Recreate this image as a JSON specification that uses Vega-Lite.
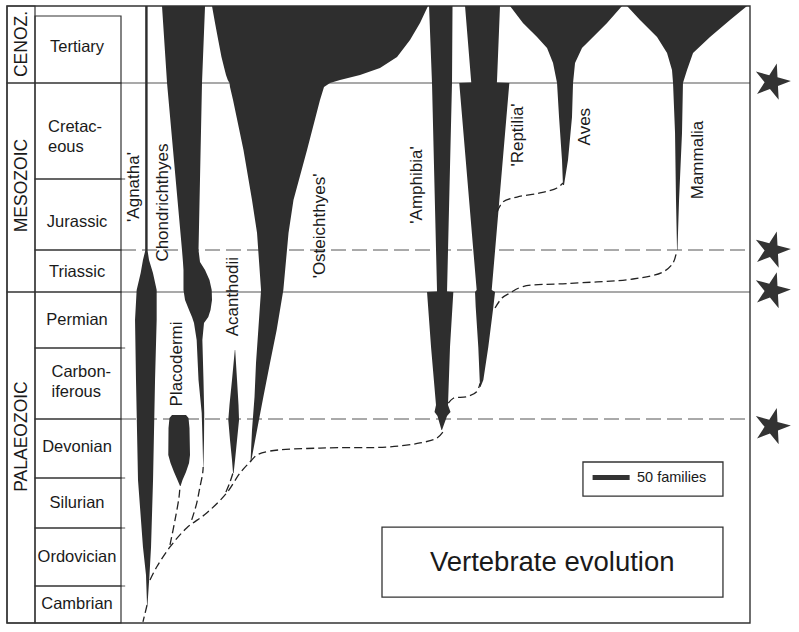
{
  "$schema": "https://vega.github.io/schema/vega-lite/v6.json",
  "width": 799,
  "height": 632,
  "autosize": "none",
  "padding": 0,
  "background": "white",
  "config": {"view": {"stroke": null}, "text": {"font": "Liberation Sans", "color": "#1a1a1a"}},
  "datasets": {
    "eras": [
      {"era": "CENOZ.", "start": 0, "end": 65, "label_ma": 28.2},
      {"era": "MESOZOIC", "start": 65, "end": 248, "label_ma": 147.8},
      {"era": "PALAEOZOIC", "start": 248, "end": 545, "label_ma": 372.7}
    ],
    "periods": [
      {"period": "Tertiary", "start": 1.8, "end": 65},
      {"period": "Cretaceous", "start": 65, "end": 142},
      {"period": "Jurassic", "start": 142, "end": 205},
      {"period": "Triassic", "start": 205, "end": 248},
      {"period": "Permian", "start": 248, "end": 290},
      {"period": "Carboniferous", "start": 290, "end": 354},
      {"period": "Devonian", "start": 354, "end": 417},
      {"period": "Silurian", "start": 417, "end": 443},
      {"period": "Ordovician", "start": 443, "end": 495},
      {"period": "Cambrian", "start": 495, "end": 545}
    ],
    "spindles": [
      {"g": "Agnatha", "ma": 0, "lo": 196, "hi": 199.3},
      {"g": "Agnatha", "ma": 206, "lo": 196, "hi": 199.3},
      {"g": "Agnatha", "ma": 215.2, "lo": 193, "hi": 201.2},
      {"g": "Agnatha", "ma": 228.6, "lo": 189.9, "hi": 206.5},
      {"g": "Agnatha", "ma": 246, "lo": 184.5, "hi": 211.5},
      {"g": "Agnatha", "ma": 269, "lo": 182.3, "hi": 211.5},
      {"g": "Agnatha", "ma": 318.8, "lo": 183.6, "hi": 209.3},
      {"g": "Agnatha", "ma": 418, "lo": 186.3, "hi": 206.6},
      {"g": "Agnatha", "ma": 460, "lo": 193, "hi": 203.9},
      {"g": "Agnatha", "ma": 485.1, "lo": 197.1, "hi": 201.8},
      {"g": "Agnatha", "ma": 520.7, "lo": 198.5, "hi": 199.1},
      {"g": "Chondrichthyes", "ma": 0, "lo": 218.7, "hi": 276.8},
      {"g": "Chondrichthyes", "ma": 65, "lo": 225.5, "hi": 272.7},
      {"g": "Chondrichthyes", "ma": 205, "lo": 245.7, "hi": 268},
      {"g": "Chondrichthyes", "ma": 217.3, "lo": 247, "hi": 270},
      {"g": "Chondrichthyes", "ma": 225.5, "lo": 247.7, "hi": 276.8},
      {"g": "Chondrichthyes", "ma": 235.7, "lo": 247.7, "hi": 282.8},
      {"g": "Chondrichthyes", "ma": 246, "lo": 247.7, "hi": 285.8},
      {"g": "Chondrichthyes", "ma": 254, "lo": 249.8, "hi": 286.2},
      {"g": "Chondrichthyes", "ma": 261.5, "lo": 255.2, "hi": 284.2},
      {"g": "Chondrichthyes", "ma": 266.75, "lo": 259.2, "hi": 281.2},
      {"g": "Chondrichthyes", "ma": 271.25, "lo": 261.9, "hi": 275.4},
      {"g": "Chondrichthyes", "ma": 284, "lo": 265.5, "hi": 273.2},
      {"g": "Chondrichthyes", "ma": 318.8, "lo": 268, "hi": 274.7},
      {"g": "Chondrichthyes", "ma": 348.6, "lo": 272.3, "hi": 275.7},
      {"g": "Chondrichthyes", "ma": 376.4, "lo": 273.4, "hi": 275.4},
      {"g": "Chondrichthyes", "ma": 405.3, "lo": 274.3, "hi": 274.6},
      {"g": "Placodermi", "ma": 350.4, "lo": 232.2, "hi": 251.1},
      {"g": "Placodermi", "ma": 353.1, "lo": 228.8, "hi": 254.5},
      {"g": "Placodermi", "ma": 363.6, "lo": 227.5, "hi": 255.8},
      {"g": "Placodermi", "ma": 392.4, "lo": 227.2, "hi": 256.5},
      {"g": "Placodermi", "ma": 401, "lo": 230.2, "hi": 255.2},
      {"g": "Placodermi", "ma": 410.6, "lo": 234.9, "hi": 251.1},
      {"g": "Placodermi", "ma": 418, "lo": 239.6, "hi": 246.4},
      {"g": "Placodermi", "ma": 421.2, "lo": 243, "hi": 243.8},
      {"g": "Acanthodii", "ma": 291.8, "lo": 317, "hi": 317.5},
      {"g": "Acanthodii", "ma": 318.8, "lo": 313.2, "hi": 320},
      {"g": "Acanthodii", "ma": 341.4, "lo": 309.8, "hi": 322},
      {"g": "Acanthodii", "ma": 355.1, "lo": 308.2, "hi": 322.7},
      {"g": "Acanthodii", "ma": 376.4, "lo": 310.5, "hi": 320},
      {"g": "Acanthodii", "ma": 397.8, "lo": 313.2, "hi": 317.3},
      {"g": "Acanthodii", "ma": 411.7, "lo": 314.6, "hi": 315.4},
      {"g": "Osteichthyes", "ma": 0, "lo": 286.2, "hi": 577.8},
      {"g": "Osteichthyes", "ma": 8.4, "lo": 290.3, "hi": 567},
      {"g": "Osteichthyes", "ma": 24.4, "lo": 294.6, "hi": 553.5},
      {"g": "Osteichthyes", "ma": 40.5, "lo": 299, "hi": 536},
      {"g": "Osteichthyes", "ma": 50.9, "lo": 302.7, "hi": 513},
      {"g": "Osteichthyes", "ma": 57.5, "lo": 305.1, "hi": 486},
      {"g": "Osteichthyes", "ma": 62.2, "lo": 307.5, "hi": 459},
      {"g": "Osteichthyes", "ma": 65, "lo": 309.8, "hi": 445.5},
      {"g": "Osteichthyes", "ma": 68.2, "lo": 310.5, "hi": 437.4},
      {"g": "Osteichthyes", "ma": 78.6, "lo": 314.6, "hi": 432},
      {"g": "Osteichthyes", "ma": 118.7, "lo": 328.7, "hi": 414.5},
      {"g": "Osteichthyes", "ma": 160.6, "lo": 340.2, "hi": 396.2},
      {"g": "Osteichthyes", "ma": 189.9, "lo": 347, "hi": 389.5},
      {"g": "Osteichthyes", "ma": 246, "lo": 352.4, "hi": 382.5},
      {"g": "Osteichthyes", "ma": 276.5, "lo": 348.7, "hi": 373.5},
      {"g": "Osteichthyes", "ma": 303.5, "lo": 345.6, "hi": 364.5},
      {"g": "Osteichthyes", "ma": 334.2, "lo": 343.6, "hi": 355.5},
      {"g": "Osteichthyes", "ma": 365.7, "lo": 340.2, "hi": 347},
      {"g": "Osteichthyes", "ma": 399.9, "lo": 338.2, "hi": 338.9},
      {"g": "Amphibia", "ma": 0, "lo": 579.2, "hi": 610.9},
      {"g": "Amphibia", "ma": 65, "lo": 583.2, "hi": 610.2},
      {"g": "Amphibia", "ma": 247.5, "lo": 590, "hi": 603.5},
      {"g": "Amphibia", "ma": 248, "lo": 576.5, "hi": 612},
      {"g": "Amphibia", "ma": 289.3, "lo": 581.9, "hi": 607.5},
      {"g": "Amphibia", "ma": 341.4, "lo": 588.6, "hi": 604.8},
      {"g": "Amphibia", "ma": 347.7, "lo": 586.6, "hi": 608.2},
      {"g": "Amphibia", "ma": 351.3, "lo": 590.6, "hi": 603.5},
      {"g": "Amphibia", "ma": 365.7, "lo": 596, "hi": 596.7},
      {"g": "Reptilia", "ma": 0, "lo": 627.8, "hi": 675},
      {"g": "Reptilia", "ma": 62.2, "lo": 635.9, "hi": 671},
      {"g": "Reptilia", "ma": 64.6, "lo": 636.2, "hi": 670.8},
      {"g": "Reptilia", "ma": 65, "lo": 620, "hi": 687.6},
      {"g": "Reptilia", "ma": 246, "lo": 643.5, "hi": 663.8},
      {"g": "Reptilia", "ma": 248, "lo": 641.3, "hi": 668.3},
      {"g": "Reptilia", "ma": 259.25, "lo": 642.2, "hi": 666},
      {"g": "Reptilia", "ma": 289.3, "lo": 645.7, "hi": 659.2},
      {"g": "Reptilia", "ma": 318.8, "lo": 647.6, "hi": 652.5},
      {"g": "Reptilia", "ma": 325.1, "lo": 648, "hi": 648.7},
      {"g": "Aves", "ma": 0, "lo": 688.5, "hi": 839.7},
      {"g": "Aves", "ma": 8.4, "lo": 706, "hi": 819.5},
      {"g": "Aves", "ma": 21.6, "lo": 725, "hi": 800.6},
      {"g": "Aves", "ma": 32, "lo": 738.5, "hi": 785.7},
      {"g": "Aves", "ma": 46.1, "lo": 746.6, "hi": 776.3},
      {"g": "Aves", "ma": 65, "lo": 752, "hi": 773.6},
      {"g": "Aves", "ma": 92.3, "lo": 754.7, "hi": 772.2},
      {"g": "Aves", "ma": 126.8, "lo": 758.7, "hi": 766.8},
      {"g": "Aves", "ma": 147.3, "lo": 760, "hi": 761.4},
      {"g": "Mammalia", "ma": 0, "lo": 846.5, "hi": 1008.5},
      {"g": "Mammalia", "ma": 5.6, "lo": 864, "hi": 985.5},
      {"g": "Mammalia", "ma": 21.6, "lo": 887, "hi": 958.5},
      {"g": "Mammalia", "ma": 36.7, "lo": 900.5, "hi": 935.6},
      {"g": "Mammalia", "ma": 52.7, "lo": 907.2, "hi": 927.5},
      {"g": "Mammalia", "ma": 65, "lo": 908.6, "hi": 922},
      {"g": "Mammalia", "ma": 105.1, "lo": 911.3, "hi": 920.7},
      {"g": "Mammalia", "ma": 160.6, "lo": 912.6, "hi": 916.7},
      {"g": "Mammalia", "ma": 205, "lo": 914, "hi": 914.6}
    ],
    "links": [
      {"s": "a", "i": 1, "ma": 520.7, "at": 198.5},
      {"s": "a", "i": 2, "ma": 543.6, "at": 193},
      {"s": "m", "i": 1, "ma": 489.6, "at": 202.5},
      {"s": "m", "i": 2, "ma": 478, "at": 211.5},
      {"s": "m", "i": 3, "ma": 460, "at": 229.5},
      {"s": "m", "i": 4, "ma": 443, "at": 252},
      {"s": "m", "i": 5, "ma": 435.2, "at": 279},
      {"s": "m", "i": 6, "ma": 424.8, "at": 306},
      {"s": "m", "i": 7, "ma": 411.7, "at": 324},
      {"s": "m", "i": 8, "ma": 399.9, "at": 337.5},
      {"s": "m", "i": 9, "ma": 392.4, "at": 347},
      {"s": "m", "i": 10, "ma": 388.2, "at": 364.5},
      {"s": "m", "i": 11, "ma": 385, "at": 432},
      {"s": "m", "i": 12, "ma": 383.9, "at": 522.5},
      {"s": "m", "i": 13, "ma": 379.6, "at": 567},
      {"s": "m", "i": 14, "ma": 374.3, "at": 590},
      {"s": "m", "i": 15, "ma": 367.9, "at": 598},
      {"s": "p", "i": 1, "ma": 458.2, "at": 229.5},
      {"s": "p", "i": 2, "ma": 438.8, "at": 236.3},
      {"s": "p", "i": 3, "ma": 426.9, "at": 241.7},
      {"s": "p", "i": 4, "ma": 421.2, "at": 243},
      {"s": "c", "i": 1, "ma": 438.8, "at": 258.8},
      {"s": "c", "i": 2, "ma": 430.2, "at": 265.5},
      {"s": "c", "i": 3, "ma": 421.5, "at": 270},
      {"s": "c", "i": 4, "ma": 412, "at": 273.6},
      {"s": "c", "i": 5, "ma": 405.3, "at": 274.3},
      {"s": "k", "i": 1, "ma": 424.3, "at": 305},
      {"s": "k", "i": 2, "ma": 419.1, "at": 310.5},
      {"s": "k", "i": 3, "ma": 412.2, "at": 314.3},
      {"s": "ar", "i": 1, "ma": 339.8, "at": 605.2},
      {"s": "ar", "i": 2, "ma": 335.3, "at": 612},
      {"s": "ar", "i": 3, "ma": 333.9, "at": 630},
      {"s": "ar", "i": 4, "ma": 329.4, "at": 643.5},
      {"s": "ar", "i": 5, "ma": 321.8, "at": 648},
      {"s": "rm", "i": 1, "ma": 260, "at": 668.3},
      {"s": "rm", "i": 2, "ma": 252.5, "at": 677.7},
      {"s": "rm", "i": 3, "ma": 248.75, "at": 688.5},
      {"s": "rm", "i": 4, "ma": 242.4, "at": 706},
      {"s": "rm", "i": 5, "ma": 239.3, "at": 765.5},
      {"s": "rm", "i": 6, "ma": 234.7, "at": 854.6},
      {"s": "rm", "i": 7, "ma": 227.5, "at": 895},
      {"s": "rm", "i": 8, "ma": 218.3, "at": 908.6},
      {"s": "rm", "i": 9, "ma": 207, "at": 913.3},
      {"s": "ra", "i": 1, "ma": 171.3, "at": 671},
      {"s": "ra", "i": 2, "ma": 162.4, "at": 679},
      {"s": "ra", "i": 3, "ma": 158, "at": 698},
      {"s": "ra", "i": 4, "ma": 154.4, "at": 729},
      {"s": "ra", "i": 5, "ma": 150, "at": 752},
      {"s": "ra", "i": 6, "ma": 145.5, "at": 760}
    ],
    "taxa": [
      {"t": "'Agnatha'", "ma": 149.1, "at": 181},
      {"t": "Chondrichthyes", "ma": 162.9, "at": 220},
      {"t": "'Osteichthyes'", "ma": 183.7, "at": 432},
      {"t": "'Amphibia'", "ma": 147.3, "at": 562.3},
      {"t": "'Reptilia'", "ma": 106.7, "at": 699.3},
      {"t": "Aves", "ma": 100, "at": 789.8},
      {"t": "Mammalia", "ma": 126.8, "at": 942.3},
      {"t": "Placodermi", "ma": 304.4, "at": 239},
      {"t": "Acanthodii", "ma": 251.5, "at": 315}
    ]
  },
  "layer": [
    {
      "data": {"values": [{"ma": 65}, {"ma": 248}]},
      "mark": {"type": "rule", "color": "#555", "strokeWidth": 1.1},
      "encoding": {
        "x": {"datum": 163.35, "type": "quantitative", "scale": {"domain": [0, 1080], "range": [0, 800], "nice": false, "zero": false}, "axis": null},
        "x2": {"datum": 1012.5},
        "y": {"field": "ma", "type": "quantitative", "scale": {"domain": [0, 1.8, 65, 142, 205, 248, 290, 354, 417, 443, 495, 545], "range": [6, 16, 83, 179, 250, 292, 348, 419, 478, 528, 586, 623], "nice": false, "zero": false}, "axis": null}
      }
    },
    {
      "data": {"values": [{"ma": 205}, {"ma": 354}]},
      "mark": {"type": "rule", "color": "#555", "strokeWidth": 1, "strokeDash": [15, 6]},
      "encoding": {
        "x": {"datum": 163.35, "type": "quantitative", "scale": {"domain": [0, 1080], "range": [0, 800], "nice": false, "zero": false}, "axis": null},
        "x2": {"datum": 1012.5},
        "y": {"field": "ma", "type": "quantitative", "scale": {"domain": [0, 1.8, 65, 142, 205, 248, 290, 354, 417, 443, 495, 545], "range": [6, 16, 83, 179, 250, 292, 348, 419, 478, 528, 586, 623], "nice": false, "zero": false}, "axis": null}
      }
    },
    {
      "data": {"values": [{"ma": 142}, {"ma": 290}, {"ma": 417}, {"ma": 443}, {"ma": 495}]},
      "mark": {"type": "rule", "color": "#555", "strokeWidth": 1},
      "encoding": {
        "x": {"datum": 163.35, "type": "quantitative", "scale": {"domain": [0, 1080], "range": [0, 800], "nice": false, "zero": false}, "axis": null},
        "x2": {"datum": 169},
        "y": {"field": "ma", "type": "quantitative", "scale": {"domain": [0, 1.8, 65, 142, 205, 248, 290, 354, 417, 443, 495, 545], "range": [6, 16, 83, 179, 250, 292, 348, 419, 478, 528, 586, 623], "nice": false, "zero": false}, "axis": null}
      }
    },
    {
      "data": {"name": "eras"},
      "mark": {"type": "rect", "filled": false, "color": "#333", "strokeWidth": 1.2},
      "encoding": {
        "x": {"datum": 9.45, "type": "quantitative", "scale": {"domain": [0, 1080], "range": [0, 800], "nice": false, "zero": false}, "axis": null},
        "x2": {"datum": 47.25},
        "y": {"field": "start", "type": "quantitative", "scale": {"domain": [0, 1.8, 65, 142, 205, 248, 290, 354, 417, 443, 495, 545], "range": [6, 16, 83, 179, 250, 292, 348, 419, 478, 528, 586, 623], "nice": false, "zero": false}, "axis": null},
        "y2": {"field": "end"}
      }
    },
    {
      "data": {"name": "periods"},
      "mark": {"type": "rect", "filled": false, "color": "#333", "strokeWidth": 1.2},
      "encoding": {
        "x": {"datum": 47.25, "type": "quantitative", "scale": {"domain": [0, 1080], "range": [0, 800], "nice": false, "zero": false}, "axis": null},
        "x2": {"datum": 163.35},
        "y": {"field": "start", "type": "quantitative", "scale": {"domain": [0, 1.8, 65, 142, 205, 248, 290, 354, 417, 443, 495, 545], "range": [6, 16, 83, 179, 250, 292, 348, 419, 478, 528, 586, 623], "nice": false, "zero": false}, "axis": null},
        "y2": {"field": "end"}
      }
    },
    {
      "data": {"values": [{"frame": "border"}]},
      "mark": {"type": "rect", "filled": false, "color": "#333", "strokeWidth": 1.4},
      "encoding": {
        "x": {"datum": 9.45, "type": "quantitative", "scale": {"domain": [0, 1080], "range": [0, 800], "nice": false, "zero": false}, "axis": null},
        "x2": {"datum": 1012.5},
        "y": {"datum": 0, "type": "quantitative", "scale": {"domain": [0, 1.8, 65, 142, 205, 248, 290, 354, 417, 443, 495, 545], "range": [6, 16, 83, 179, 250, 292, 348, 419, 478, 528, 586, 623], "nice": false, "zero": false}, "axis": null},
        "y2": {"datum": 545}
      }
    },
    {
      "data": {"name": "spindles"},
      "mark": {"type": "area", "orient": "horizontal", "color": "#2e2e2e", "interpolate": "linear"},
      "encoding": {
        "y": {"field": "ma", "type": "quantitative", "scale": {"domain": [0, 1.8, 65, 142, 205, 248, 290, 354, 417, 443, 495, 545], "range": [6, 16, 83, 179, 250, 292, 348, 419, 478, 528, 586, 623], "nice": false, "zero": false}, "axis": null},
        "x": {"field": "lo", "type": "quantitative", "scale": {"domain": [0, 1080], "range": [0, 800], "nice": false, "zero": false}, "axis": null},
        "x2": {"field": "hi"},
        "detail": {"field": "g"}
      }
    },
    {
      "data": {"name": "links"},
      "mark": {"type": "line", "color": "#222", "strokeWidth": 1.3, "strokeDash": [8, 4], "interpolate": "catmull-rom"},
      "encoding": {
        "x": {"field": "at", "type": "quantitative", "scale": {"domain": [0, 1080], "range": [0, 800], "nice": false, "zero": false}, "axis": null},
        "y": {"field": "ma", "type": "quantitative", "scale": {"domain": [0, 1.8, 65, 142, 205, 248, 290, 354, 417, 443, 495, 545], "range": [6, 16, 83, 179, 250, 292, 348, 419, 478, 528, 586, 623], "nice": false, "zero": false}, "axis": null},
        "detail": {"field": "s"},
        "order": {"field": "i", "type": "quantitative"}
      }
    },
    {
      "data": {"name": "eras"},
      "mark": {"type": "text", "angle": 270, "align": "center", "baseline": "middle", "fontSize": 17.5},
      "encoding": {
        "x": {"datum": 29.5, "type": "quantitative", "scale": {"domain": [0, 1080], "range": [0, 800], "nice": false, "zero": false}, "axis": null},
        "y": {"field": "label_ma", "type": "quantitative", "scale": {"domain": [0, 1.8, 65, 142, 205, 248, 290, 354, 417, 443, 495, 545], "range": [6, 16, 83, 179, 250, 292, 348, 419, 478, 528, 586, 623], "nice": false, "zero": false}, "axis": null},
        "text": {"field": "era"}
      }
    },
    {
      "data": {"values": [
        {"t": "Tertiary", "ma": 31},
        {"t": "Jurassic", "ma": 180.2},
        {"t": "Triassic", "ma": 227.5},
        {"t": "Permian", "ma": 269},
        {"t": "Devonian", "ma": 383.9},
        {"t": "Silurian", "ma": 430},
        {"t": "Ordovician", "ma": 469},
        {"t": "Cambrian", "ma": 519.3}
      ]},
      "mark": {"type": "text", "align": "center", "baseline": "middle", "fontSize": 16.5},
      "encoding": {
        "x": {"datum": 104, "type": "quantitative", "scale": {"domain": [0, 1080], "range": [0, 800], "nice": false, "zero": false}, "axis": null},
        "y": {"field": "ma", "type": "quantitative", "scale": {"domain": [0, 1.8, 65, 142, 205, 248, 290, 354, 417, 443, 495, 545], "range": [6, 16, 83, 179, 250, 292, 348, 419, 478, 528, 586, 623], "nice": false, "zero": false}, "axis": null},
        "text": {"field": "t"}
      }
    },
    {
      "data": {"values": [{"t": "Cretac-", "ma": 100.3}, {"t": "eous", "ma": 116.3}]},
      "mark": {"type": "text", "align": "left", "baseline": "middle", "fontSize": 16.5},
      "encoding": {
        "x": {"datum": 64.8, "type": "quantitative", "scale": {"domain": [0, 1080], "range": [0, 800], "nice": false, "zero": false}, "axis": null},
        "y": {"field": "ma", "type": "quantitative", "scale": {"domain": [0, 1.8, 65, 142, 205, 248, 290, 354, 417, 443, 495, 545], "range": [6, 16, 83, 179, 250, 292, 348, 419, 478, 528, 586, 623], "nice": false, "zero": false}, "axis": null},
        "text": {"field": "t"}
      }
    },
    {
      "data": {"values": [{"t": "Carbon-", "ma": 311.6}, {"t": "iferous", "ma": 329.7}]},
      "mark": {"type": "text", "align": "left", "baseline": "middle", "fontSize": 16.5},
      "encoding": {
        "x": {"datum": 69.5, "type": "quantitative", "scale": {"domain": [0, 1080], "range": [0, 800], "nice": false, "zero": false}, "axis": null},
        "y": {"field": "ma", "type": "quantitative", "scale": {"domain": [0, 1.8, 65, 142, 205, 248, 290, 354, 417, 443, 495, 545], "range": [6, 16, 83, 179, 250, 292, 348, 419, 478, 528, 586, 623], "nice": false, "zero": false}, "axis": null},
        "text": {"field": "t"}
      }
    },
    {
      "data": {"name": "taxa"},
      "mark": {"type": "text", "angle": 270, "align": "center", "baseline": "middle", "fontSize": 17},
      "encoding": {
        "x": {"field": "at", "type": "quantitative", "scale": {"domain": [0, 1080], "range": [0, 800], "nice": false, "zero": false}, "axis": null},
        "y": {"field": "ma", "type": "quantitative", "scale": {"domain": [0, 1.8, 65, 142, 205, 248, 290, 354, 417, 443, 495, 545], "range": [6, 16, 83, 179, 250, 292, 348, 419, 478, 528, 586, 623], "nice": false, "zero": false}, "axis": null},
        "text": {"field": "t"}
      }
    },
    {
      "data": {"values": [{"event": "end-Cretaceous", "ma": 64}, {"event": "end-Triassic", "ma": 205}, {"event": "end-Permian", "ma": 246.5}, {"event": "Late Devonian", "ma": 362}]},
      "mark": {"type": "point", "filled": true, "color": "#333", "opacity": 1, "size": 1450, "angle": 15, "shape": "M0,-1L0.2245,-0.309L0.9511,-0.309L0.3633,0.118L0.5878,0.809L0,0.382L-0.5878,0.809L-0.3633,0.118L-0.9511,-0.309L-0.2245,-0.309Z"},
      "encoding": {
        "x": {"datum": 1042, "type": "quantitative", "scale": {"domain": [0, 1080], "range": [0, 800], "nice": false, "zero": false}, "axis": null},
        "y": {"field": "ma", "type": "quantitative", "scale": {"domain": [0, 1.8, 65, 142, 205, 248, 290, 354, 417, 443, 495, 545], "range": [6, 16, 83, 179, 250, 292, 348, 419, 478, 528, 586, 623], "nice": false, "zero": false}, "axis": null}
      }
    },
    {
      "data": {"values": [{"box": "legend", "x1": 787, "x2": 976, "y1": 399.9, "y2": 426.4}, {"box": "title", "x1": 515.7, "x2": 976, "y1": 442.5, "y2": 509.9}]},
      "mark": {"type": "rect", "filled": false, "color": "#333", "strokeWidth": 1.3},
      "encoding": {
        "x": {"field": "x1", "type": "quantitative", "scale": {"domain": [0, 1080], "range": [0, 800], "nice": false, "zero": false}, "axis": null},
        "x2": {"field": "x2"},
        "y": {"field": "y1", "type": "quantitative", "scale": {"domain": [0, 1.8, 65, 142, 205, 248, 290, 354, 417, 443, 495, 545], "range": [6, 16, 83, 179, 250, 292, 348, 419, 478, 528, 586, 623], "nice": false, "zero": false}, "axis": null},
        "y2": {"field": "y2"}
      }
    },
    {
      "data": {"values": [{"families": 50, "from": 800, "to": 850, "ma": 416.5}]},
      "mark": {"type": "rule", "color": "#333", "strokeWidth": 5},
      "encoding": {
        "x": {"field": "from", "type": "quantitative", "scale": {"domain": [0, 1080], "range": [0, 800], "nice": false, "zero": false}, "axis": null},
        "x2": {"field": "to"},
        "y": {"field": "ma", "type": "quantitative", "scale": {"domain": [0, 1.8, 65, 142, 205, 248, 290, 354, 417, 443, 495, 545], "range": [6, 16, 83, 179, 250, 292, 348, 419, 478, 528, 586, 623], "nice": false, "zero": false}, "axis": null}
      }
    },
    {
      "data": {"values": [{"t": "50 families", "at": 860, "ma": 416.5}]},
      "mark": {"type": "text", "align": "left", "baseline": "middle", "fontSize": 14.5},
      "encoding": {
        "x": {"field": "at", "type": "quantitative", "scale": {"domain": [0, 1080], "range": [0, 800], "nice": false, "zero": false}, "axis": null},
        "y": {"field": "ma", "type": "quantitative", "scale": {"domain": [0, 1.8, 65, 142, 205, 248, 290, 354, 417, 443, 495, 545], "range": [6, 16, 83, 179, 250, 292, 348, 419, 478, 528, 586, 623], "nice": false, "zero": false}, "axis": null},
        "text": {"field": "t"}
      }
    },
    {
      "data": {"values": [{"t": "Vertebrate evolution", "at": 745.5, "ma": 474.4}]},
      "mark": {"type": "text", "align": "center", "baseline": "middle", "fontSize": 27.5},
      "encoding": {
        "x": {"field": "at", "type": "quantitative", "scale": {"domain": [0, 1080], "range": [0, 800], "nice": false, "zero": false}, "axis": null},
        "y": {"field": "ma", "type": "quantitative", "scale": {"domain": [0, 1.8, 65, 142, 205, 248, 290, 354, 417, 443, 495, 545], "range": [6, 16, 83, 179, 250, 292, 348, 419, 478, 528, 586, 623], "nice": false, "zero": false}, "axis": null},
        "text": {"field": "t"}
      }
    }
  ]
}
